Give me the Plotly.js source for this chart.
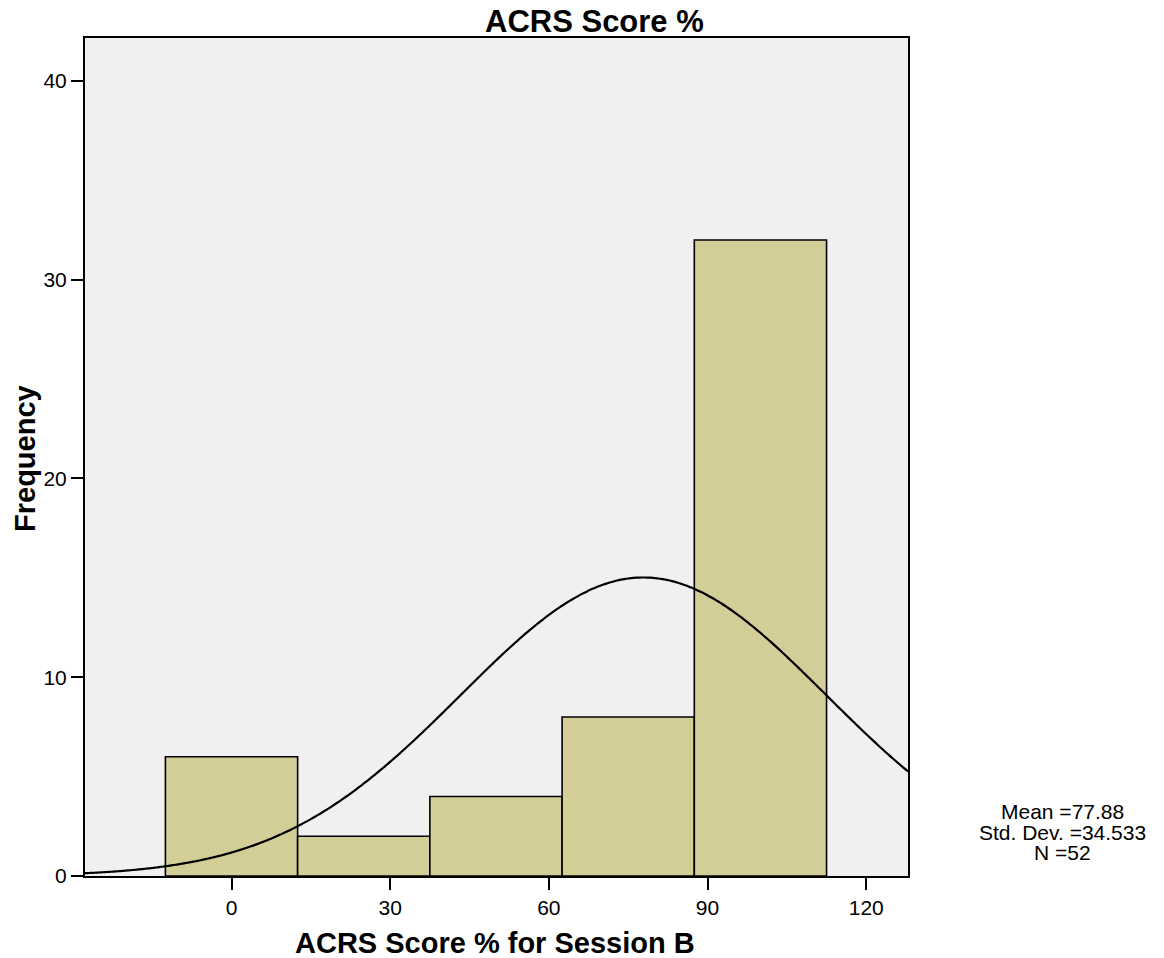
<!DOCTYPE html>
<html>
<head>
<meta charset="utf-8">
<script src="https://cdn.plot.ly/plotly-3.0.1.min.js"></script>
<style>html,body{margin:0;padding:0;background:#fff;}#chart{width:1164px;height:958px;}</style>
</head>
<body>
<div id="chart"></div>
<script>
// Data
const binCenters = [0, 25, 50, 75, 100];
const binWidth = 25;
const frequencies = [6, 2, 4, 8, 32];
const statMean = 77.88;
const statSD = 34.533;
const statN = 52;
const xTickVals = [0, 30, 60, 90, 120];
const yTickVals = [0, 10, 20, 30, 40];
const statLines = ['Mean =' + statMean.toFixed(2), 'Std. Dev. =' + statSD.toFixed(3), 'N =' + statN];

const xRange = [-27.7, 127.9];
const yRange = [0, 42.16];

// fitted normal curve (from mean, SD, N and bin width)
const curveX = [];
const curveY = [];
for (let i = 0; i <= 300; i++) {
  const x = xRange[0] + (xRange[1] - xRange[0]) * i / 300;
  curveX.push(x);
  const z = (x - statMean) / statSD;
  curveY.push(statN * binWidth * Math.exp(-0.5 * z * z) / (statSD * Math.sqrt(2 * Math.PI)));
}

const font = 'Liberation Sans, Arial, sans-serif';

const traces = [
  {
    type: 'bar', x: binCenters, y: frequencies, width: binWidth,
    marker: {color: '#D3CE98', line: {color: '#000', width: 1.6}},
    hoverinfo: 'x+y', showlegend: false
  },
  {
    type: 'scatter', mode: 'lines', x: curveX, y: curveY,
    line: {color: '#000', width: 2.2, shape: 'spline'}, hoverinfo: 'skip', showlegend: false
  }
];

const statAnnotations = statLines.map((t, i) => ({
  text: t, xref: 'paper', yref: 'paper', x: 1, xshift: 1062 - 908, y: 0,
  yshift: 876 - (819 + 20.5 * i) - 6, xanchor: 'center', yanchor: 'bottom', showarrow: false,
  font: {family: font, size: 21}
}));

const layout = {
  width: 1164, height: 958,
  margin: {l: 85, r: 256, t: 38, b: 82},
  paper_bgcolor: '#fff', plot_bgcolor: '#F0F0F0',
  font: {family: font, size: 21, color: '#000'},
  xaxis: {
    range: xRange, tickvals: xTickVals, ticktext: xTickVals.map(String),
    ticks: 'outside', ticklen: 12, tickwidth: 2, tickcolor: '#000',
    showline: true, linecolor: '#000', linewidth: 2, mirror: true,
    showgrid: false, zeroline: false, tickfont: {family: font, size: 21, color: '#000'},
    fixedrange: true
  },
  yaxis: {
    range: yRange, tickvals: yTickVals, ticktext: yTickVals.map(String),
    ticks: 'outside', ticklen: 12, tickwidth: 2, tickcolor: '#000',
    showline: true, linecolor: '#000', linewidth: 2, mirror: true,
    showgrid: false, zeroline: false, tickfont: {family: font, size: 21, color: '#000'},
    fixedrange: true
  },
  annotations: [
    {text: '<b>ACRS Score %</b>', xref: 'paper', yref: 'paper', x: (594 - 85) / 823, y: 1, yshift: -3,
     xanchor: 'center', yanchor: 'bottom', showarrow: false, font: {family: font, size: 31}},
    {text: '<b>ACRS Score % for Session B</b>', xref: 'paper', yref: 'paper', x: (495 - 85) / 823, y: 0, yshift: -49,
     xanchor: 'center', yanchor: 'top', showarrow: false, font: {family: font, size: 29}},
    {text: '<b>Frequency</b>', xref: 'paper', yref: 'paper', x: 0, xshift: -60, y: (876 - 459) / 838,
     xanchor: 'center', yanchor: 'middle', textangle: -90, showarrow: false, font: {family: font, size: 29}}
  ].concat(statAnnotations)
};

Plotly.newPlot('chart', traces, layout, {displayModeBar: false, staticPlot: true});
</script>
</body>
</html>
